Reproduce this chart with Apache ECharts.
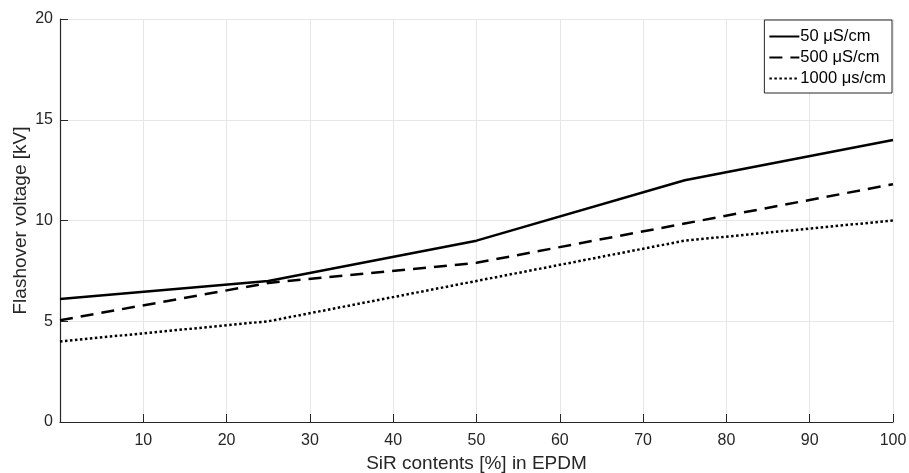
<!DOCTYPE html>
<html>
<head>
<meta charset="utf-8">
<script src="https://cdn.jsdelivr.net/npm/echarts@6/dist/echarts.min.js"></script>
<style>
  html, body { margin: 0; padding: 0; background: #fff; }
  #chart { width: 909px; height: 473px; }
</style>
</head>
<body>
<div id="chart"></div>
<script>
(function(){
    var sirContent = [0, 25, 50, 75, 100];
    var v50 = [6.1, 7.0, 9.0, 12.0, 14.0];
    var v500 = [5.05, 6.9, 7.9, 9.85, 11.8];
    var v1000 = [4.0, 5.0, 7.0, 9.0, 10.0];
    var seriesNames = ['50 μS/cm', '500 μS/cm', '1000 μs/cm'];

    function pairs(ys){
        return sirContent.map(function(x, i){ return [x, ys[i]]; });
    }

    var font = 'Liberation Sans, Arial, sans-serif';
    var txt = '#262626';

    var option = {
        animation: false,
        textStyle: { fontFamily: font },
        grid: { left: 60, right: 16, top: 19, bottom: 51, outerBoundsMode: 'none', containLabel: false },
        legend: {
            data: seriesNames,
            orient: 'vertical',
            right: 17,
            top: 20,
            padding: [8, 6, 6, 4],
            itemGap: 4,
            itemWidth: 30,
            itemHeight: 17,
            backgroundColor: '#fff',
            borderColor: txt,
            borderWidth: 1,
            itemStyle: { color: 'transparent', borderWidth: 0, opacity: 0 },
            textStyle: { fontSize: 16.5, lineHeight: 17, color: '#000', fontFamily: font, padding: [0, 0, 0, -4] }
        },
        xAxis: {
            type: 'value',
            min: 0,
            max: 100,
            interval: 10,
            name: 'SiR contents [%] in EPDM',
            nameLocation: 'middle',
            nameGap: 32,
            nameTextStyle: { fontSize: 19, color: txt },
            axisLine: { lineStyle: { color: txt, width: 1.2 } },
            axisTick: { inside: true, length: 8, lineStyle: { color: txt } },
            axisLabel: { showMinLabel: false, fontSize: 16, color: txt, margin: 11 },
            splitLine: { lineStyle: { color: '#e6e6e6' } }
        },
        yAxis: {
            type: 'value',
            min: 0,
            max: 20,
            interval: 5,
            name: 'Flashover voltage [kV]',
            nameLocation: 'middle',
            nameGap: 30,
            nameMoveOverlap: false,
            nameTextStyle: { fontSize: 19, color: txt },
            axisLine: { show: true, lineStyle: { color: txt, width: 1.2 } },
            axisTick: { show: true, inside: true, length: 8, lineStyle: { color: txt } },
            axisLabel: { fontSize: 16, color: txt, margin: 7 },
            splitLine: { lineStyle: { color: '#e6e6e6' } }
        },
        series: [
            {
                name: seriesNames[0],
                type: 'line',
                symbol: 'none',
                data: pairs(v50),
                lineStyle: { color: '#000', width: 2.5, type: 'solid' },
                itemStyle: { color: '#000' }
            },
            {
                name: seriesNames[1],
                type: 'line',
                symbol: 'none',
                data: pairs(v500),
                lineStyle: { color: '#000', width: 2.5, type: [13, 8] },
                itemStyle: { color: '#000' }
            },
            {
                name: seriesNames[2],
                type: 'line',
                symbol: 'none',
                data: pairs(v1000),
                lineStyle: { color: '#000', width: 2.5, type: [2.5, 2.5] },
                itemStyle: { color: '#000' }
            }
        ]
    };
    var chart = echarts.init(document.getElementById('chart'));
    chart.setOption(option);
})();
</script>
</body>
</html>
